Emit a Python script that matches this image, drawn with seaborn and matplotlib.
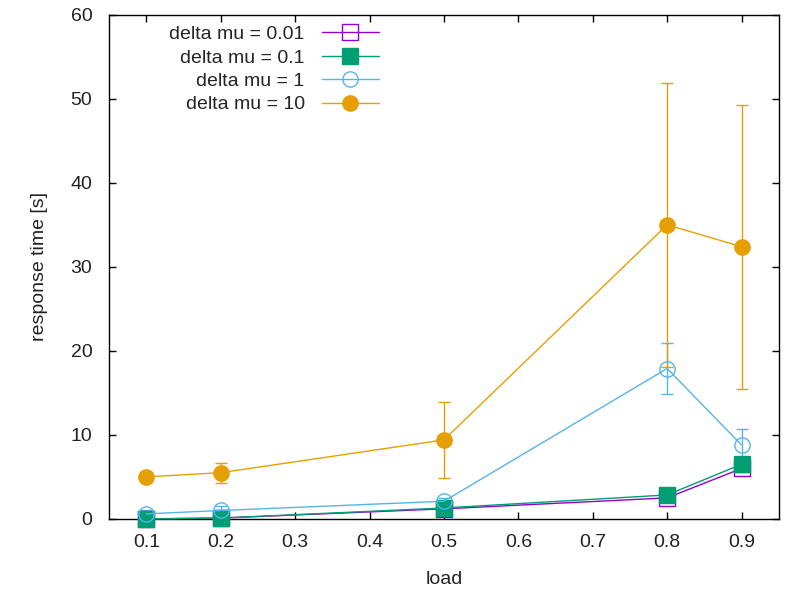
import matplotlib
matplotlib.use("Agg")
import matplotlib.pyplot as plt
import seaborn as sns
import numpy as np

load = [0.1, 0.2, 0.5, 0.8, 0.9]
labels = ["delta mu = 0.01", "delta mu = 0.1", "delta mu = 1", "delta mu = 10"]
rt_001 = [0.0, 0.1, 1.2, 2.5, 6.0]
err_001 = [0.1, 0.1, 0.2, 0.3, 0.4]
rt_01 = [0.0, 0.1, 1.3, 2.85, 6.5]
err_01 = [0.1, 0.1, 0.2, 0.3, 0.4]
rt_1 = [0.6, 1.0, 2.1, 17.9, 8.8]
err_1 = [0.4, 0.5, 0.4, 3.0, 1.9]
rt_10 = [5.0, 5.5, 9.4, 35.0, 32.4]
err_10 = [0.3, 1.2, 4.5, 16.9, 16.9]

colors = ["#9400d3", "#009e73", "#56b4e9", "#e69f00"]
markers = ["s", "s", "o", "o"]
filled = [False, True, False, True]

sns.set_theme(style="ticks")
plt.rcParams['font.family'] = ['Liberation Sans', 'DejaVu Sans']

fig = plt.figure(figsize=(7.85, 5.91), dpi=100)
ax = fig.add_axes([0.139, 0.122, 0.853, 0.853])

series = [(rt_001, err_001), (rt_01, err_01), (rt_1, err_1), (rt_10, err_10)]
for i, ((y, e), lab) in enumerate(zip(series, labels)):
    c = colors[i]
    ax.errorbar(load, y, yerr=e, fmt="none", ecolor=c, elinewidth=1.0,
                capsize=4, capthick=1.0, zorder=2)
    sns.lineplot(x=load, y=y, ax=ax, color=c, marker=markers[i], markersize=11,
                 markerfacecolor=(c if filled[i] else "none"), markeredgecolor=c,
                 markeredgewidth=1.0, linewidth=1.0, label=lab, zorder=3,
                 clip_on=False)

ax.set_xlim(0.05, 0.95)
ax.set_ylim(0, 60)
ax.set_xticks([0.1, 0.2, 0.3, 0.4, 0.5, 0.6, 0.7, 0.8, 0.9])
ax.set_yticks([0, 10, 20, 30, 40, 50, 60])
ax.tick_params(direction="in", top=True, right=True, length=5, width=1,
               labelsize=14, colors="black", labelcolor="#222222")
ax.tick_params(axis="x", pad=11)
ax.tick_params(axis="y", pad=12)
for s in ax.spines.values():
    s.set_linewidth(1.0)
    s.set_color("black")
ax.set_xlabel("load", fontsize=14, labelpad=14, color="#222222")
ax.set_ylabel("response time [s]", fontsize=14, labelpad=16, color="#222222")

leg = ax.legend(loc="upper left", bbox_to_anchor=(0.074, 1.0), frameon=False,
                markerfirst=False, fontsize=14, handlelength=2.9,
                labelspacing=0.3, handletextpad=0.9, borderaxespad=0.15)

fig.savefig("out.png", dpi=100)
